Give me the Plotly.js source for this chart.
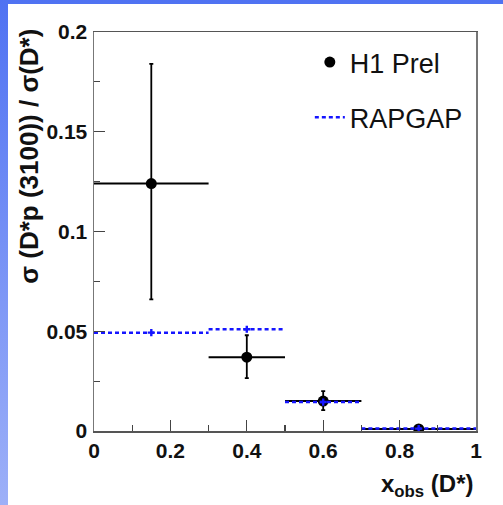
<!DOCTYPE html>
<html><head><meta charset="utf-8">
<script src="https://cdn.plot.ly/plotly-3.0.1.min.js"></script>
<style>
html,body{margin:0;padding:0;width:503px;height:505px;overflow:hidden;}
body{background:linear-gradient(180deg,#4f72f2 0%,#7f98f6 60%,#9db0f8 100%);}
#plot{position:absolute;left:8px;top:4px;width:495px;height:501px;background:#fff;}
</style></head><body>
<div id="plot"></div>
<script>
// H1 preliminary data
const binLo = [0.0, 0.3, 0.5, 0.7];
const binHi = [0.3, 0.5, 0.7, 1.0];
const h1X = [0.15, 0.4, 0.6, 0.85];
const h1Y = [0.124, 0.037, 0.015, 0.001];
const h1ErrUp = [0.060, 0.011, 0.005, 0.0008];
const h1ErrDn = [0.058, 0.0105, 0.0045, 0.0008];
// RAPGAP prediction
const rapY = [0.0493, 0.0510, 0.0145, 0.0012];
const xTickVals = [0, 0.2, 0.4, 0.6, 0.8, 1];
const xTickText = ['0', '0.2', '0.4', '0.6', '0.8', '1'];
const yTickVals = [0, 0.05, 0.1, 0.15, 0.2];
const yTickText = ['0', '0.05', '0.1', '0.15', '0.2'];

const halfW = h1X.map((x, i) => x - binLo[i]);
const halfW2 = h1X.map((x, i) => binHi[i] - x);

const rapSegX = [], rapSegY = [];
binLo.forEach((lo, i) => { rapSegX.push(lo, binHi[i], null); rapSegY.push(rapY[i], rapY[i], null); });
const rapCX = binLo.map((lo, i) => (lo + binHi[i]) / 2);

const traces = [
  {x: h1X, y: h1Y, type: 'scatter', mode: 'markers', name: 'H1 Prel', legendgroup: 'a',
   marker: {color: '#000', size: 11},
   error_y: {type: 'data', symmetric: false, array: h1ErrUp, arrayminus: h1ErrDn, color: '#000', thickness: 1.8, width: 2},
   error_x: {type: 'data', symmetric: false, array: halfW2, arrayminus: halfW, color: '#000', thickness: 2, width: 0}},
  {x: rapSegX, y: rapSegY, type: 'scatter', mode: 'lines', name: 'RAPGAP', legendgroup: 'b',
   line: {color: '#1515ff', width: 2.5, dash: '4px,3px'}},
  {x: rapCX, y: rapY, type: 'scatter', mode: 'markers', showlegend: false,
   marker: {color: '#1515ff', size: 6, symbol: 'cross'}}
];

const axFont = {family: 'Liberation Sans, Arial, sans-serif', size: 21, color: '#111', weight: 'bold'};
const layout = {
  width: 495, height: 501,
  margin: {l: 86, r: 27, t: 28, b: 74},
  paper_bgcolor: '#fff', plot_bgcolor: '#fff',
  showlegend: true,
  legend: {x: 0.565, y: 0.985, xanchor: 'left', yanchor: 'top', bgcolor: 'rgba(0,0,0,0)',
    font: {family: 'Liberation Sans, Arial, sans-serif', size: 27, color: '#111'},
    tracegroupgap: 17, traceorder: 'grouped', itemwidth: 30},
  xaxis: {range: [0, 1], tickvals: xTickVals, ticktext: xTickText, ticks: 'inside', ticklen: 11,
    tickwidth: 1.2, tickcolor: '#444',
    minor: {dtick: 0.1, ticks: 'inside', ticklen: 6, tickcolor: '#444'},
    showgrid: false, zeroline: false, showline: true, linecolor: '#555', linewidth: 1.5, mirror: true,
    tickfont: axFont, ticklabelstandoff: 0},
  yaxis: {range: [0, 0.2], tickvals: yTickVals, ticktext: yTickText, ticks: 'inside', ticklen: 11,
    tickwidth: 1.2, tickcolor: '#444',
    minor: {dtick: 0.025, ticks: 'inside', ticklen: 6, tickcolor: '#444'},
    showgrid: false, zeroline: false, showline: true, linecolor: '#777', linewidth: 1.5, mirror: true,
    tickfont: axFont, ticklabelstandoff: 1},
  annotations: [
    {text: 'σ (D*p (3100)) / σ(D*)', xref: 'paper', yref: 'paper', x: -0.17, y: 1.012,
     xanchor: 'center', yanchor: 'top', textangle: -90, showarrow: false,
     font: {family: 'Liberation Sans, Arial, sans-serif', size: 26, color: '#111', weight: 'bold'}},
    {text: 'x<sub>obs</sub> (D*)', xref: 'paper', yref: 'paper', x: 1.0, y: -0.092,
     xanchor: 'right', yanchor: 'top', showarrow: false,
     font: {family: 'Liberation Sans, Arial, sans-serif', size: 24, color: '#111', weight: 'bold'}}
  ]
};
Plotly.newPlot('plot', traces, layout, {displayModeBar: false, staticPlot: true});
</script></body></html>
